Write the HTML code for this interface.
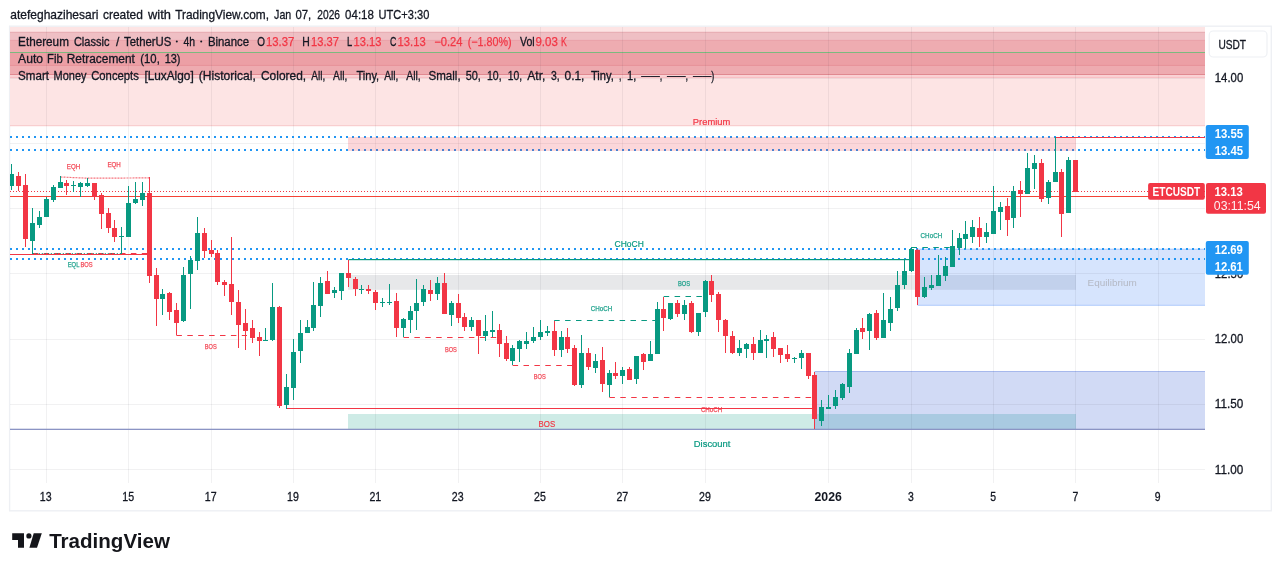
<!DOCTYPE html>
<html lang="en"><head><meta charset="utf-8"><title>ETCUSDT chart</title>
<style>
html,body{margin:0;padding:0;background:#fff;}
body{width:1281px;height:571px;overflow:hidden;font-family:"Liberation Sans", Arial, sans-serif;}
svg{display:block;position:absolute;left:0;top:0;will-change:transform;}
text{font-family:"Liberation Sans", Arial, sans-serif;}
.tk{stroke:#131722;stroke-width:0.3px;}
.tkr{stroke:#f23645;stroke-width:0.25px;}
.ce{shape-rendering:crispEdges;}
</style></head><body>
<svg width="1281" height="571" viewBox="0 0 1281 571">
<defs><clipPath id="pane"><rect x="10.0" y="26.8" width="1195.0" height="456.2"/></clipPath></defs>
<rect width="1281" height="571" fill="#fff"/>
<rect x="9.6" y="26.2" width="1261.7" height="484.6" fill="none" stroke="#eef0f4" stroke-width="1.4"/>
<g clip-path="url(#pane)">
<rect x="10" y="26.8" width="1195" height="5.5" fill="#fde4e4" />
<rect x="10" y="32.3" width="1195" height="8.1" fill="#efbfc4" />
<rect x="10" y="40.4" width="1195" height="12.1" fill="#eeacb1" />
<rect x="10" y="52.5" width="1195" height="12.9" fill="#ec9fa5" />
<rect x="10" y="65.4" width="1195" height="9.1" fill="#eeabb0" />
<rect x="10" y="74.5" width="1195" height="2.9" fill="#fad3d5" />
<rect x="10" y="77.4" width="1195" height="48.3" fill="#fde4e4" />
<rect x="10" y="31.8" width="1195" height="1" fill="#e5a7ad" />
<rect x="10" y="39.9" width="1195" height="1" fill="#e9a0a7" />
<rect x="10" y="64.9" width="1195" height="1" fill="#e68f97" />
<rect x="10" y="74" width="1195" height="1" fill="#e08990" />
<rect x="10" y="76.9" width="1195" height="1" fill="#f9bcc0" />
<rect x="10" y="125.2" width="1195" height="1" fill="#f7c6c8" />
<rect x="10" y="52" width="1195" height="1" fill="#7cb97e" />
<rect x="348" y="275" width="728" height="14.8" fill="#e7e8ea" />
<rect x="348" y="414" width="728" height="15.3" fill="#ceebe6" />
<rect x="917.5" y="249" width="287.5" height="56.5" fill="rgba(49,121,245,0.2)" />
<rect x="917.5" y="304.8" width="287.5" height="1" fill="rgba(49,121,245,0.3)" />
<rect x="917.5" y="248.6" width="287.5" height="1" fill="rgba(49,121,245,0.3)" />
<rect x="814.5" y="371.4" width="390.5" height="58" fill="rgba(24,72,204,0.2)" />
<rect x="814.5" y="371" width="390.5" height="1" fill="rgba(24,72,204,0.3)" />
<rect x="46" y="26.8" width="1" height="456.2" fill="rgba(42,46,57,0.065)" class="ce"/>
<rect x="128" y="26.8" width="1" height="456.2" fill="rgba(42,46,57,0.065)" class="ce"/>
<rect x="211" y="26.8" width="1" height="456.2" fill="rgba(42,46,57,0.065)" class="ce"/>
<rect x="293" y="26.8" width="1" height="456.2" fill="rgba(42,46,57,0.065)" class="ce"/>
<rect x="375" y="26.8" width="1" height="456.2" fill="rgba(42,46,57,0.065)" class="ce"/>
<rect x="458" y="26.8" width="1" height="456.2" fill="rgba(42,46,57,0.065)" class="ce"/>
<rect x="540" y="26.8" width="1" height="456.2" fill="rgba(42,46,57,0.065)" class="ce"/>
<rect x="622" y="26.8" width="1" height="456.2" fill="rgba(42,46,57,0.065)" class="ce"/>
<rect x="705" y="26.8" width="1" height="456.2" fill="rgba(42,46,57,0.065)" class="ce"/>
<rect x="828" y="26.8" width="1" height="456.2" fill="rgba(42,46,57,0.065)" class="ce"/>
<rect x="911" y="26.8" width="1" height="456.2" fill="rgba(42,46,57,0.065)" class="ce"/>
<rect x="993" y="26.8" width="1" height="456.2" fill="rgba(42,46,57,0.065)" class="ce"/>
<rect x="1075" y="26.8" width="1" height="456.2" fill="rgba(42,46,57,0.065)" class="ce"/>
<rect x="1158" y="26.8" width="1" height="456.2" fill="rgba(42,46,57,0.065)" class="ce"/>
<rect x="10" y="78" width="1195" height="1" fill="rgba(42,46,57,0.065)" class="ce"/>
<rect x="10" y="143" width="1195" height="1" fill="rgba(42,46,57,0.065)" class="ce"/>
<rect x="10" y="208" width="1195" height="1" fill="rgba(42,46,57,0.065)" class="ce"/>
<rect x="10" y="273" width="1195" height="1" fill="rgba(42,46,57,0.065)" class="ce"/>
<rect x="10" y="339" width="1195" height="1" fill="rgba(42,46,57,0.065)" class="ce"/>
<rect x="10" y="404" width="1195" height="1" fill="rgba(42,46,57,0.065)" class="ce"/>
<rect x="10" y="469" width="1195" height="1" fill="rgba(42,46,57,0.065)" class="ce"/>
<rect x="10" y="428.7" width="1195" height="1.3" fill="#8b94c4" />
<rect x="10" y="196" width="1195" height="1" fill="#f44336" class="ce"/>
<line x1="10" y1="191.5" x2="1205.0" y2="191.5" stroke="#f23645" stroke-width="1" stroke-dasharray="1 2" class="ce"/>
<line x1="10" y1="137" x2="1205.0" y2="137" stroke="#2196f3" stroke-width="2" stroke-dasharray="2 4"/>
<line x1="10" y1="150" x2="1205.0" y2="150" stroke="#2196f3" stroke-width="2" stroke-dasharray="2 4"/>
<line x1="10" y1="249" x2="1205.0" y2="249" stroke="#2196f3" stroke-width="2" stroke-dasharray="2 4"/>
<line x1="10" y1="259" x2="1205.0" y2="259" stroke="#2196f3" stroke-width="2" stroke-dasharray="2 4"/>
<rect x="348" y="137" width="728" height="14" fill="rgba(242,54,69,0.2)" />
<rect x="1055.5" y="137" width="149.5" height="1" fill="#f23645" class="ce"/>
<rect x="348.5" y="259" width="561" height="1.2" fill="#089981" />
<rect x="286" y="408" width="526.5" height="1" fill="#f23645" class="ce"/>
<rect x="10" y="254" width="137" height="1" fill="#f23645" class="ce"/>
<line x1="32.8" y1="253.5" x2="147" y2="253.5" stroke="#f23645" stroke-width="1" stroke-dasharray="5.5 5.4"/>
<line x1="32.8" y1="253.5" x2="121" y2="253.5" stroke="#089981" stroke-width="1" stroke-dasharray="1 2"/>
<polyline points="60.5,177 87.5,178.2 149.5,177.9" fill="none" stroke="#f23645" stroke-width="1.2" stroke-dasharray="2 1" opacity="0.7"/>
<line x1="176.4" y1="335.5" x2="247" y2="335.5" stroke="#f23645" stroke-width="1" stroke-dasharray="5.5 5.4"/>
<line x1="403.5" y1="337.5" x2="496.2" y2="337.5" stroke="#f23645" stroke-width="1" stroke-dasharray="5.5 5.4"/>
<line x1="512.6" y1="365.5" x2="572.6" y2="365.5" stroke="#f23645" stroke-width="1" stroke-dasharray="5.5 5.4"/>
<line x1="609.4" y1="397.5" x2="812.5" y2="397.5" stroke="#f23645" stroke-width="1" stroke-dasharray="5.5 5.4"/>
<line x1="554.2" y1="320.5" x2="656.2" y2="320.5" stroke="#089981" stroke-width="1" stroke-dasharray="5.5 5.4"/>
<line x1="663.7" y1="296.5" x2="703" y2="296.5" stroke="#089981" stroke-width="1" stroke-dasharray="5.5 5.4"/>
<line x1="911.5" y1="247.5" x2="950.5" y2="247.5" stroke="#089981" stroke-width="1" stroke-dasharray="5.5 5.4"/>
<rect x="11" y="164" width="1" height="26" fill="#089981" class="ce"/>
<rect x="9" y="174" width="5" height="12" fill="#089981" class="ce"/>
<rect x="18" y="172" width="1" height="19" fill="#f23645" class="ce"/>
<rect x="16" y="176" width="5" height="10" fill="#f23645" class="ce"/>
<rect x="25" y="174" width="1" height="73" fill="#f23645" class="ce"/>
<rect x="23" y="185" width="5" height="54" fill="#f23645" class="ce"/>
<rect x="32" y="208" width="1" height="46" fill="#089981" class="ce"/>
<rect x="30" y="223" width="5" height="18" fill="#089981" class="ce"/>
<rect x="39" y="211" width="1" height="17" fill="#089981" class="ce"/>
<rect x="37" y="217" width="5" height="8" fill="#089981" class="ce"/>
<rect x="46" y="197" width="1" height="20" fill="#089981" class="ce"/>
<rect x="44" y="199" width="5" height="18" fill="#089981" class="ce"/>
<rect x="53" y="185" width="1" height="17" fill="#089981" class="ce"/>
<rect x="51" y="187" width="5" height="13" fill="#089981" class="ce"/>
<rect x="60" y="176" width="1" height="12" fill="#089981" class="ce"/>
<rect x="58" y="182" width="5" height="6" fill="#089981" class="ce"/>
<rect x="66" y="180" width="1" height="15" fill="#f23645" class="ce"/>
<rect x="64" y="183" width="5" height="3" fill="#f23645" class="ce"/>
<rect x="73" y="181" width="1" height="11" fill="#089981" class="ce"/>
<rect x="71" y="185" width="5" height="1" fill="#089981" class="ce"/>
<rect x="80" y="182" width="1" height="15" fill="#089981" class="ce"/>
<rect x="78" y="183" width="5" height="4" fill="#089981" class="ce"/>
<rect x="87" y="178" width="1" height="9" fill="#089981" class="ce"/>
<rect x="85" y="183" width="5" height="3" fill="#089981" class="ce"/>
<rect x="94" y="183" width="1" height="17" fill="#f23645" class="ce"/>
<rect x="92" y="183" width="5" height="14" fill="#f23645" class="ce"/>
<rect x="101" y="193" width="1" height="36" fill="#f23645" class="ce"/>
<rect x="99" y="195" width="5" height="19" fill="#f23645" class="ce"/>
<rect x="108" y="208" width="1" height="25" fill="#f23645" class="ce"/>
<rect x="106" y="213" width="5" height="15" fill="#f23645" class="ce"/>
<rect x="114" y="220" width="1" height="22" fill="#f23645" class="ce"/>
<rect x="112" y="228" width="5" height="9" fill="#f23645" class="ce"/>
<rect x="121" y="227" width="1" height="27" fill="#089981" class="ce"/>
<rect x="119" y="236" width="5" height="1" fill="#089981" class="ce"/>
<rect x="128" y="186" width="1" height="51" fill="#089981" class="ce"/>
<rect x="126" y="203" width="5" height="34" fill="#089981" class="ce"/>
<rect x="135" y="182" width="1" height="22" fill="#089981" class="ce"/>
<rect x="133" y="199" width="5" height="4" fill="#089981" class="ce"/>
<rect x="142" y="182" width="1" height="24" fill="#089981" class="ce"/>
<rect x="140" y="193" width="5" height="7" fill="#089981" class="ce"/>
<rect x="149" y="177" width="1" height="106" fill="#f23645" class="ce"/>
<rect x="147" y="193" width="5" height="83" fill="#f23645" class="ce"/>
<rect x="156" y="268" width="1" height="58" fill="#f23645" class="ce"/>
<rect x="154" y="275" width="5" height="24" fill="#f23645" class="ce"/>
<rect x="162" y="289" width="1" height="26" fill="#089981" class="ce"/>
<rect x="160" y="294" width="5" height="5" fill="#089981" class="ce"/>
<rect x="169" y="292" width="1" height="28" fill="#f23645" class="ce"/>
<rect x="167" y="293" width="5" height="19" fill="#f23645" class="ce"/>
<rect x="176" y="303" width="1" height="32" fill="#f23645" class="ce"/>
<rect x="174" y="310" width="5" height="13" fill="#f23645" class="ce"/>
<rect x="183" y="267" width="1" height="55" fill="#089981" class="ce"/>
<rect x="181" y="275" width="5" height="46" fill="#089981" class="ce"/>
<rect x="190" y="256" width="1" height="53" fill="#089981" class="ce"/>
<rect x="188" y="260" width="5" height="14" fill="#089981" class="ce"/>
<rect x="197" y="217" width="1" height="53" fill="#089981" class="ce"/>
<rect x="195" y="233" width="5" height="28" fill="#089981" class="ce"/>
<rect x="204" y="228" width="1" height="30" fill="#f23645" class="ce"/>
<rect x="202" y="233" width="5" height="18" fill="#f23645" class="ce"/>
<rect x="211" y="240" width="1" height="17" fill="#f23645" class="ce"/>
<rect x="209" y="250" width="5" height="4" fill="#f23645" class="ce"/>
<rect x="217" y="250" width="1" height="35" fill="#f23645" class="ce"/>
<rect x="215" y="253" width="5" height="29" fill="#f23645" class="ce"/>
<rect x="224" y="280" width="1" height="16" fill="#f23645" class="ce"/>
<rect x="222" y="282" width="5" height="3" fill="#f23645" class="ce"/>
<rect x="231" y="237" width="1" height="78" fill="#f23645" class="ce"/>
<rect x="229" y="284" width="5" height="18" fill="#f23645" class="ce"/>
<rect x="238" y="290" width="1" height="58" fill="#f23645" class="ce"/>
<rect x="236" y="302" width="5" height="23" fill="#f23645" class="ce"/>
<rect x="245" y="309" width="1" height="41" fill="#f23645" class="ce"/>
<rect x="243" y="323" width="5" height="8" fill="#f23645" class="ce"/>
<rect x="252" y="320" width="1" height="23" fill="#f23645" class="ce"/>
<rect x="250" y="328" width="5" height="10" fill="#f23645" class="ce"/>
<rect x="259" y="332" width="1" height="24" fill="#f23645" class="ce"/>
<rect x="257" y="337" width="5" height="4" fill="#f23645" class="ce"/>
<rect x="265" y="328" width="1" height="13" fill="#089981" class="ce"/>
<rect x="263" y="340" width="5" height="1" fill="#089981" class="ce"/>
<rect x="272" y="283" width="1" height="58" fill="#089981" class="ce"/>
<rect x="270" y="307" width="5" height="33" fill="#089981" class="ce"/>
<rect x="279" y="306" width="1" height="102" fill="#f23645" class="ce"/>
<rect x="277" y="307" width="5" height="99" fill="#f23645" class="ce"/>
<rect x="286" y="374" width="1" height="35" fill="#089981" class="ce"/>
<rect x="284" y="387" width="5" height="18" fill="#089981" class="ce"/>
<rect x="293" y="339" width="1" height="61" fill="#089981" class="ce"/>
<rect x="291" y="352" width="5" height="36" fill="#089981" class="ce"/>
<rect x="300" y="320" width="1" height="43" fill="#089981" class="ce"/>
<rect x="298" y="333" width="5" height="18" fill="#089981" class="ce"/>
<rect x="307" y="320" width="1" height="13" fill="#089981" class="ce"/>
<rect x="305" y="327" width="5" height="6" fill="#089981" class="ce"/>
<rect x="313" y="282" width="1" height="49" fill="#089981" class="ce"/>
<rect x="311" y="305" width="5" height="23" fill="#089981" class="ce"/>
<rect x="320" y="277" width="1" height="40" fill="#089981" class="ce"/>
<rect x="318" y="283" width="5" height="23" fill="#089981" class="ce"/>
<rect x="327" y="271" width="1" height="23" fill="#f23645" class="ce"/>
<rect x="325" y="281" width="5" height="13" fill="#f23645" class="ce"/>
<rect x="334" y="287" width="1" height="11" fill="#089981" class="ce"/>
<rect x="332" y="290" width="5" height="3" fill="#089981" class="ce"/>
<rect x="341" y="273" width="1" height="27" fill="#089981" class="ce"/>
<rect x="339" y="273" width="5" height="18" fill="#089981" class="ce"/>
<rect x="348" y="260" width="1" height="27" fill="#f23645" class="ce"/>
<rect x="346" y="273" width="5" height="5" fill="#f23645" class="ce"/>
<rect x="355" y="277" width="1" height="19" fill="#f23645" class="ce"/>
<rect x="353" y="279" width="5" height="10" fill="#f23645" class="ce"/>
<rect x="361" y="285" width="1" height="9" fill="#089981" class="ce"/>
<rect x="359" y="289" width="5" height="1" fill="#089981" class="ce"/>
<rect x="368" y="285" width="1" height="9" fill="#f23645" class="ce"/>
<rect x="366" y="289" width="5" height="2" fill="#f23645" class="ce"/>
<rect x="375" y="290" width="1" height="20" fill="#f23645" class="ce"/>
<rect x="373" y="292" width="5" height="11" fill="#f23645" class="ce"/>
<rect x="382" y="298" width="1" height="9" fill="#089981" class="ce"/>
<rect x="380" y="302" width="5" height="1" fill="#089981" class="ce"/>
<rect x="389" y="284" width="1" height="21" fill="#089981" class="ce"/>
<rect x="387" y="302" width="5" height="1" fill="#089981" class="ce"/>
<rect x="396" y="293" width="1" height="44" fill="#f23645" class="ce"/>
<rect x="394" y="301" width="5" height="27" fill="#f23645" class="ce"/>
<rect x="403" y="318" width="1" height="19" fill="#089981" class="ce"/>
<rect x="401" y="319" width="5" height="9" fill="#089981" class="ce"/>
<rect x="410" y="306" width="1" height="27" fill="#089981" class="ce"/>
<rect x="408" y="311" width="5" height="9" fill="#089981" class="ce"/>
<rect x="416" y="279" width="1" height="51" fill="#089981" class="ce"/>
<rect x="414" y="303" width="5" height="8" fill="#089981" class="ce"/>
<rect x="423" y="285" width="1" height="21" fill="#089981" class="ce"/>
<rect x="421" y="289" width="5" height="13" fill="#089981" class="ce"/>
<rect x="430" y="280" width="1" height="21" fill="#f23645" class="ce"/>
<rect x="428" y="290" width="5" height="4" fill="#f23645" class="ce"/>
<rect x="437" y="277" width="1" height="23" fill="#089981" class="ce"/>
<rect x="435" y="283" width="5" height="11" fill="#089981" class="ce"/>
<rect x="444" y="273" width="1" height="41" fill="#f23645" class="ce"/>
<rect x="442" y="283" width="5" height="31" fill="#f23645" class="ce"/>
<rect x="451" y="301" width="1" height="25" fill="#089981" class="ce"/>
<rect x="449" y="303" width="5" height="12" fill="#089981" class="ce"/>
<rect x="458" y="294" width="1" height="29" fill="#f23645" class="ce"/>
<rect x="456" y="303" width="5" height="15" fill="#f23645" class="ce"/>
<rect x="464" y="313" width="1" height="18" fill="#f23645" class="ce"/>
<rect x="462" y="317" width="5" height="10" fill="#f23645" class="ce"/>
<rect x="471" y="317" width="1" height="14" fill="#089981" class="ce"/>
<rect x="469" y="320" width="5" height="7" fill="#089981" class="ce"/>
<rect x="478" y="320" width="1" height="34" fill="#f23645" class="ce"/>
<rect x="476" y="320" width="5" height="16" fill="#f23645" class="ce"/>
<rect x="485" y="315" width="1" height="26" fill="#089981" class="ce"/>
<rect x="483" y="331" width="5" height="5" fill="#089981" class="ce"/>
<rect x="492" y="311" width="1" height="26" fill="#089981" class="ce"/>
<rect x="490" y="330" width="5" height="2" fill="#089981" class="ce"/>
<rect x="499" y="324" width="1" height="33" fill="#f23645" class="ce"/>
<rect x="497" y="330" width="5" height="14" fill="#f23645" class="ce"/>
<rect x="506" y="336" width="1" height="25" fill="#f23645" class="ce"/>
<rect x="504" y="343" width="5" height="16" fill="#f23645" class="ce"/>
<rect x="512" y="345" width="1" height="20" fill="#089981" class="ce"/>
<rect x="510" y="348" width="5" height="13" fill="#089981" class="ce"/>
<rect x="519" y="340" width="1" height="22" fill="#089981" class="ce"/>
<rect x="517" y="341" width="5" height="8" fill="#089981" class="ce"/>
<rect x="526" y="332" width="1" height="17" fill="#089981" class="ce"/>
<rect x="524" y="341" width="5" height="3" fill="#089981" class="ce"/>
<rect x="533" y="327" width="1" height="16" fill="#089981" class="ce"/>
<rect x="531" y="337" width="5" height="4" fill="#089981" class="ce"/>
<rect x="540" y="320" width="1" height="20" fill="#089981" class="ce"/>
<rect x="538" y="332" width="5" height="5" fill="#089981" class="ce"/>
<rect x="547" y="326" width="1" height="10" fill="#089981" class="ce"/>
<rect x="545" y="331" width="5" height="2" fill="#089981" class="ce"/>
<rect x="554" y="321" width="1" height="35" fill="#f23645" class="ce"/>
<rect x="552" y="331" width="5" height="19" fill="#f23645" class="ce"/>
<rect x="561" y="331" width="1" height="26" fill="#089981" class="ce"/>
<rect x="559" y="337" width="5" height="13" fill="#089981" class="ce"/>
<rect x="567" y="328" width="1" height="25" fill="#f23645" class="ce"/>
<rect x="565" y="337" width="5" height="12" fill="#f23645" class="ce"/>
<rect x="574" y="345" width="1" height="41" fill="#f23645" class="ce"/>
<rect x="572" y="348" width="5" height="37" fill="#f23645" class="ce"/>
<rect x="581" y="335" width="1" height="53" fill="#089981" class="ce"/>
<rect x="579" y="353" width="5" height="32" fill="#089981" class="ce"/>
<rect x="588" y="348" width="1" height="22" fill="#f23645" class="ce"/>
<rect x="586" y="353" width="5" height="14" fill="#f23645" class="ce"/>
<rect x="595" y="354" width="1" height="19" fill="#089981" class="ce"/>
<rect x="593" y="361" width="5" height="7" fill="#089981" class="ce"/>
<rect x="602" y="347" width="1" height="45" fill="#f23645" class="ce"/>
<rect x="600" y="360" width="5" height="24" fill="#f23645" class="ce"/>
<rect x="609" y="370" width="1" height="27" fill="#089981" class="ce"/>
<rect x="607" y="373" width="5" height="12" fill="#089981" class="ce"/>
<rect x="615" y="362" width="1" height="17" fill="#f23645" class="ce"/>
<rect x="613" y="373" width="5" height="3" fill="#f23645" class="ce"/>
<rect x="622" y="367" width="1" height="17" fill="#089981" class="ce"/>
<rect x="620" y="370" width="5" height="6" fill="#089981" class="ce"/>
<rect x="629" y="367" width="1" height="13" fill="#f23645" class="ce"/>
<rect x="627" y="369" width="5" height="11" fill="#f23645" class="ce"/>
<rect x="636" y="356" width="1" height="28" fill="#089981" class="ce"/>
<rect x="634" y="356" width="5" height="23" fill="#089981" class="ce"/>
<rect x="643" y="353" width="1" height="17" fill="#f23645" class="ce"/>
<rect x="641" y="354" width="5" height="8" fill="#f23645" class="ce"/>
<rect x="650" y="341" width="1" height="20" fill="#089981" class="ce"/>
<rect x="648" y="354" width="5" height="7" fill="#089981" class="ce"/>
<rect x="657" y="302" width="1" height="52" fill="#089981" class="ce"/>
<rect x="655" y="309" width="5" height="45" fill="#089981" class="ce"/>
<rect x="663" y="297" width="1" height="34" fill="#f23645" class="ce"/>
<rect x="661" y="309" width="5" height="9" fill="#f23645" class="ce"/>
<rect x="670" y="303" width="1" height="17" fill="#089981" class="ce"/>
<rect x="668" y="303" width="5" height="16" fill="#089981" class="ce"/>
<rect x="677" y="300" width="1" height="17" fill="#f23645" class="ce"/>
<rect x="675" y="303" width="5" height="11" fill="#f23645" class="ce"/>
<rect x="684" y="300" width="1" height="20" fill="#089981" class="ce"/>
<rect x="682" y="305" width="5" height="9" fill="#089981" class="ce"/>
<rect x="691" y="301" width="1" height="32" fill="#f23645" class="ce"/>
<rect x="689" y="303" width="5" height="29" fill="#f23645" class="ce"/>
<rect x="698" y="313" width="1" height="23" fill="#089981" class="ce"/>
<rect x="696" y="313" width="5" height="19" fill="#089981" class="ce"/>
<rect x="705" y="280" width="1" height="37" fill="#089981" class="ce"/>
<rect x="703" y="281" width="5" height="31" fill="#089981" class="ce"/>
<rect x="711" y="275" width="1" height="27" fill="#f23645" class="ce"/>
<rect x="709" y="281" width="5" height="14" fill="#f23645" class="ce"/>
<rect x="718" y="292" width="1" height="40" fill="#f23645" class="ce"/>
<rect x="716" y="294" width="5" height="26" fill="#f23645" class="ce"/>
<rect x="725" y="319" width="1" height="34" fill="#f23645" class="ce"/>
<rect x="723" y="320" width="5" height="16" fill="#f23645" class="ce"/>
<rect x="732" y="331" width="1" height="23" fill="#f23645" class="ce"/>
<rect x="730" y="336" width="5" height="17" fill="#f23645" class="ce"/>
<rect x="739" y="340" width="1" height="16" fill="#089981" class="ce"/>
<rect x="737" y="348" width="5" height="5" fill="#089981" class="ce"/>
<rect x="746" y="343" width="1" height="15" fill="#089981" class="ce"/>
<rect x="744" y="344" width="5" height="5" fill="#089981" class="ce"/>
<rect x="753" y="337" width="1" height="23" fill="#f23645" class="ce"/>
<rect x="751" y="344" width="5" height="9" fill="#f23645" class="ce"/>
<rect x="760" y="330" width="1" height="23" fill="#089981" class="ce"/>
<rect x="758" y="340" width="5" height="13" fill="#089981" class="ce"/>
<rect x="766" y="335" width="1" height="23" fill="#089981" class="ce"/>
<rect x="764" y="339" width="5" height="2" fill="#089981" class="ce"/>
<rect x="773" y="332" width="1" height="25" fill="#f23645" class="ce"/>
<rect x="771" y="337" width="5" height="12" fill="#f23645" class="ce"/>
<rect x="780" y="348" width="1" height="15" fill="#f23645" class="ce"/>
<rect x="778" y="348" width="5" height="7" fill="#f23645" class="ce"/>
<rect x="787" y="345" width="1" height="17" fill="#f23645" class="ce"/>
<rect x="785" y="354" width="5" height="5" fill="#f23645" class="ce"/>
<rect x="794" y="357" width="1" height="6" fill="#089981" class="ce"/>
<rect x="792" y="358" width="5" height="1" fill="#089981" class="ce"/>
<rect x="801" y="350" width="1" height="19" fill="#089981" class="ce"/>
<rect x="799" y="353" width="5" height="5" fill="#089981" class="ce"/>
<rect x="808" y="353" width="1" height="26" fill="#f23645" class="ce"/>
<rect x="806" y="353" width="5" height="23" fill="#f23645" class="ce"/>
<rect x="814" y="372" width="1" height="57" fill="#f23645" class="ce"/>
<rect x="812" y="375" width="5" height="44" fill="#f23645" class="ce"/>
<rect x="821" y="400" width="1" height="26" fill="#089981" class="ce"/>
<rect x="819" y="407" width="5" height="14" fill="#089981" class="ce"/>
<rect x="828" y="395" width="1" height="14" fill="#089981" class="ce"/>
<rect x="826" y="407" width="5" height="2" fill="#089981" class="ce"/>
<rect x="835" y="390" width="1" height="19" fill="#089981" class="ce"/>
<rect x="833" y="397" width="5" height="9" fill="#089981" class="ce"/>
<rect x="842" y="383" width="1" height="17" fill="#089981" class="ce"/>
<rect x="840" y="384" width="5" height="14" fill="#089981" class="ce"/>
<rect x="849" y="349" width="1" height="44" fill="#089981" class="ce"/>
<rect x="847" y="353" width="5" height="34" fill="#089981" class="ce"/>
<rect x="856" y="328" width="1" height="26" fill="#089981" class="ce"/>
<rect x="854" y="330" width="5" height="24" fill="#089981" class="ce"/>
<rect x="862" y="318" width="1" height="21" fill="#f23645" class="ce"/>
<rect x="860" y="328" width="5" height="4" fill="#f23645" class="ce"/>
<rect x="869" y="313" width="1" height="37" fill="#089981" class="ce"/>
<rect x="867" y="314" width="5" height="17" fill="#089981" class="ce"/>
<rect x="876" y="310" width="1" height="30" fill="#f23645" class="ce"/>
<rect x="874" y="313" width="5" height="25" fill="#f23645" class="ce"/>
<rect x="883" y="293" width="1" height="45" fill="#089981" class="ce"/>
<rect x="881" y="320" width="5" height="18" fill="#089981" class="ce"/>
<rect x="890" y="297" width="1" height="34" fill="#089981" class="ce"/>
<rect x="888" y="309" width="5" height="14" fill="#089981" class="ce"/>
<rect x="897" y="271" width="1" height="40" fill="#089981" class="ce"/>
<rect x="895" y="285" width="5" height="23" fill="#089981" class="ce"/>
<rect x="904" y="259" width="1" height="30" fill="#089981" class="ce"/>
<rect x="902" y="271" width="5" height="14" fill="#089981" class="ce"/>
<rect x="911" y="247" width="1" height="25" fill="#089981" class="ce"/>
<rect x="909" y="249" width="5" height="22" fill="#089981" class="ce"/>
<rect x="917" y="249" width="1" height="56" fill="#f23645" class="ce"/>
<rect x="915" y="250" width="5" height="47" fill="#f23645" class="ce"/>
<rect x="924" y="277" width="1" height="21" fill="#089981" class="ce"/>
<rect x="922" y="287" width="5" height="10" fill="#089981" class="ce"/>
<rect x="931" y="275" width="1" height="15" fill="#089981" class="ce"/>
<rect x="929" y="285" width="5" height="3" fill="#089981" class="ce"/>
<rect x="938" y="255" width="1" height="31" fill="#089981" class="ce"/>
<rect x="936" y="275" width="5" height="11" fill="#089981" class="ce"/>
<rect x="945" y="257" width="1" height="24" fill="#089981" class="ce"/>
<rect x="943" y="266" width="5" height="10" fill="#089981" class="ce"/>
<rect x="952" y="230" width="1" height="37" fill="#089981" class="ce"/>
<rect x="950" y="246" width="5" height="21" fill="#089981" class="ce"/>
<rect x="959" y="233" width="1" height="22" fill="#089981" class="ce"/>
<rect x="957" y="238" width="5" height="10" fill="#089981" class="ce"/>
<rect x="965" y="221" width="1" height="28" fill="#089981" class="ce"/>
<rect x="963" y="234" width="5" height="5" fill="#089981" class="ce"/>
<rect x="972" y="220" width="1" height="23" fill="#089981" class="ce"/>
<rect x="970" y="227" width="5" height="10" fill="#089981" class="ce"/>
<rect x="979" y="217" width="1" height="30" fill="#f23645" class="ce"/>
<rect x="977" y="228" width="5" height="9" fill="#f23645" class="ce"/>
<rect x="986" y="223" width="1" height="20" fill="#089981" class="ce"/>
<rect x="984" y="232" width="5" height="5" fill="#089981" class="ce"/>
<rect x="993" y="186" width="1" height="48" fill="#089981" class="ce"/>
<rect x="991" y="211" width="5" height="23" fill="#089981" class="ce"/>
<rect x="1000" y="202" width="1" height="28" fill="#089981" class="ce"/>
<rect x="998" y="207" width="5" height="5" fill="#089981" class="ce"/>
<rect x="1007" y="198" width="1" height="38" fill="#f23645" class="ce"/>
<rect x="1005" y="206" width="5" height="14" fill="#f23645" class="ce"/>
<rect x="1013" y="186" width="1" height="42" fill="#089981" class="ce"/>
<rect x="1011" y="191" width="5" height="27" fill="#089981" class="ce"/>
<rect x="1020" y="181" width="1" height="36" fill="#f23645" class="ce"/>
<rect x="1018" y="190" width="5" height="4" fill="#f23645" class="ce"/>
<rect x="1027" y="153" width="1" height="41" fill="#089981" class="ce"/>
<rect x="1025" y="168" width="5" height="26" fill="#089981" class="ce"/>
<rect x="1034" y="155" width="1" height="34" fill="#089981" class="ce"/>
<rect x="1032" y="163" width="5" height="6" fill="#089981" class="ce"/>
<rect x="1041" y="159" width="1" height="43" fill="#f23645" class="ce"/>
<rect x="1039" y="163" width="5" height="36" fill="#f23645" class="ce"/>
<rect x="1048" y="180" width="1" height="24" fill="#089981" class="ce"/>
<rect x="1046" y="182" width="5" height="16" fill="#089981" class="ce"/>
<rect x="1055" y="137" width="1" height="45" fill="#089981" class="ce"/>
<rect x="1053" y="172" width="5" height="10" fill="#089981" class="ce"/>
<rect x="1061" y="169" width="1" height="68" fill="#f23645" class="ce"/>
<rect x="1059" y="172" width="5" height="42" fill="#f23645" class="ce"/>
<rect x="1068" y="157" width="1" height="56" fill="#089981" class="ce"/>
<rect x="1066" y="160" width="5" height="53" fill="#089981" class="ce"/>
<rect x="1075" y="160" width="1" height="32" fill="#f23645" class="ce"/>
<rect x="1073" y="160" width="5" height="32" fill="#f23645" class="ce"/>
</g>
<text x="66.8" y="169.2" font-size="7" fill="#f23645" textLength="13.4" lengthAdjust="spacingAndGlyphs" opacity="0.9" stroke="#f23645" stroke-width="0.25">EQH</text>
<text x="107.4" y="167.2" font-size="7" fill="#f23645" textLength="13.4" lengthAdjust="spacingAndGlyphs" opacity="0.9" stroke="#f23645" stroke-width="0.25">EQH</text>
<text x="67.7" y="267.3" font-size="7" fill="#089981" textLength="11.7" lengthAdjust="spacingAndGlyphs" opacity="0.9" stroke="#089981" stroke-width="0.25">EQL</text>
<text x="80.5" y="267.3" font-size="7" fill="#f23645" textLength="12.2" lengthAdjust="spacingAndGlyphs" opacity="0.9" stroke="#f23645" stroke-width="0.25">BOS</text>
<text x="204.8" y="349.3" font-size="7" fill="#f23645" textLength="12" lengthAdjust="spacingAndGlyphs" opacity="0.9" stroke="#f23645" stroke-width="0.25">BOS</text>
<text x="444.9" y="352.1" font-size="7" fill="#f23645" textLength="12" lengthAdjust="spacingAndGlyphs" opacity="0.9" stroke="#f23645" stroke-width="0.25">BOS</text>
<text x="533.8" y="379.1" font-size="7" fill="#f23645" textLength="12" lengthAdjust="spacingAndGlyphs" opacity="0.9" stroke="#f23645" stroke-width="0.25">BOS</text>
<text x="590.7" y="311.3" font-size="7" fill="#089981" textLength="21.5" lengthAdjust="spacingAndGlyphs" opacity="0.9" stroke="#089981" stroke-width="0.25">CHoCH</text>
<text x="677.9" y="286.2" font-size="7" fill="#089981" textLength="12.2" lengthAdjust="spacingAndGlyphs" opacity="0.9" stroke="#089981" stroke-width="0.25">BOS</text>
<text x="700.9" y="412.1" font-size="7" fill="#f23645" textLength="21.3" lengthAdjust="spacingAndGlyphs" opacity="0.9" stroke="#f23645" stroke-width="0.25">CHoCH</text>
<text x="920.6" y="238" font-size="7" fill="#089981" textLength="21.6" lengthAdjust="spacingAndGlyphs" opacity="0.9" stroke="#089981" stroke-width="0.25">CHoCH</text>
<text x="538.6" y="427.1" font-size="9.6" fill="#f23645" textLength="16.6" lengthAdjust="spacingAndGlyphs" stroke="#f23645" stroke-width="0.2">BOS</text>
<text x="614.6" y="246.8" font-size="9.7" fill="#089981" textLength="29.2" lengthAdjust="spacingAndGlyphs" stroke="#089981" stroke-width="0.2">CHoCH</text>
<text x="692.8" y="125" font-size="9.6" fill="#f23645" textLength="37.5" lengthAdjust="spacingAndGlyphs" stroke="#f23645" stroke-width="0.2">Premium</text>
<text x="693.8" y="447.3" font-size="9.6" fill="#089981" textLength="36.6" lengthAdjust="spacingAndGlyphs" stroke="#089981" stroke-width="0.2">Discount</text>
<text x="1087.6" y="286.2" font-size="9.6" fill="#b4b8c4" textLength="49.2" lengthAdjust="spacingAndGlyphs" >Equilibrium</text>
<text x="10.3" y="18.7" font-size="13" fill="#131722" textLength="88.1" lengthAdjust="spacingAndGlyphs" class="tk" >atefeghazihesari</text>
<text x="103" y="18.7" font-size="13" fill="#131722" textLength="39.9" lengthAdjust="spacingAndGlyphs" class="tk" >created</text>
<text x="148" y="18.7" font-size="13" fill="#131722" textLength="22.9" lengthAdjust="spacingAndGlyphs" class="tk" >with</text>
<text x="175.2" y="18.7" font-size="13" fill="#131722" textLength="93.8" lengthAdjust="spacingAndGlyphs" class="tk" >TradingView.com,</text>
<text x="274.1" y="18.7" font-size="13" fill="#131722" textLength="17.2" lengthAdjust="spacingAndGlyphs" class="tk" >Jan</text>
<text x="295.4" y="18.7" font-size="13" fill="#131722" textLength="15.8" lengthAdjust="spacingAndGlyphs" class="tk" >07,</text>
<text x="317.3" y="18.7" font-size="13" fill="#131722" textLength="22.7" lengthAdjust="spacingAndGlyphs" class="tk" >2026</text>
<text x="345.1" y="18.7" font-size="13" fill="#131722" textLength="28.8" lengthAdjust="spacingAndGlyphs" class="tk" >04:18</text>
<text x="378.6" y="18.7" font-size="13" fill="#131722" textLength="50.7" lengthAdjust="spacingAndGlyphs" class="tk" >UTC+3:30</text>
<text x="18.1" y="45.8" font-size="12" fill="#131722" textLength="50.8" lengthAdjust="spacingAndGlyphs" class="tk" >Ethereum</text>
<text x="73.9" y="45.8" font-size="12" fill="#131722" textLength="35.6" lengthAdjust="spacingAndGlyphs" class="tk" >Classic</text>
<text x="124.1" y="45.8" font-size="12" fill="#131722" textLength="47.3" lengthAdjust="spacingAndGlyphs" class="tk" >TetherUS</text>
<text x="183.5" y="45.8" font-size="12" fill="#131722" textLength="11.6" lengthAdjust="spacingAndGlyphs" class="tk" >4h</text>
<text x="207.9" y="45.8" font-size="12" fill="#131722" textLength="41.2" lengthAdjust="spacingAndGlyphs" class="tk" >Binance</text>
<text x="116" y="45.8" font-size="12" fill="#131722" class="tk" >/</text>
<circle cx="176.8" cy="41.6" r="1" fill="#131722"/><circle cx="201.2" cy="41.6" r="1" fill="#131722"/>
<text x="257.2" y="45.8" font-size="12" fill="#131722" textLength="7.7" lengthAdjust="spacingAndGlyphs" class="tk" >O</text>
<text x="266" y="45.8" font-size="12" fill="#f23645" textLength="28.3" lengthAdjust="spacingAndGlyphs" class="tkr" >13.37</text>
<text x="302.3" y="45.8" font-size="12" fill="#131722" textLength="7.5" lengthAdjust="spacingAndGlyphs" class="tk" >H</text>
<text x="311" y="45.8" font-size="12" fill="#f23645" textLength="27.9" lengthAdjust="spacingAndGlyphs" class="tkr" >13.37</text>
<text x="347.1" y="45.8" font-size="12" fill="#131722" textLength="5.2" lengthAdjust="spacingAndGlyphs" class="tk" >L</text>
<text x="353.6" y="45.8" font-size="12" fill="#f23645" textLength="27.8" lengthAdjust="spacingAndGlyphs" class="tkr" >13.13</text>
<text x="389.9" y="45.8" font-size="12" fill="#131722" textLength="6.4" lengthAdjust="spacingAndGlyphs" class="tk" >C</text>
<text x="397.6" y="45.8" font-size="12" fill="#f23645" textLength="28.1" lengthAdjust="spacingAndGlyphs" class="tkr" >13.13</text>
<text x="434.2" y="45.8" font-size="12" fill="#f23645" textLength="28.3" lengthAdjust="spacingAndGlyphs" class="tkr" >−0.24</text>
<text x="467.7" y="45.8" font-size="12" fill="#f23645" textLength="43.8" lengthAdjust="spacingAndGlyphs" class="tkr" >(−1.80%)</text>
<text x="520" y="45.8" font-size="12" fill="#131722" textLength="14.6" lengthAdjust="spacingAndGlyphs" class="tk" >Vol</text>
<text x="535.4" y="45.8" font-size="12" fill="#f23645" textLength="22.4" lengthAdjust="spacingAndGlyphs" class="tkr" >9.03</text>
<text x="560.9" y="45.8" font-size="12" fill="#f23645" textLength="5.9" lengthAdjust="spacingAndGlyphs" class="tkr" >K</text>
<text x="18.1" y="63" font-size="12" fill="#131722" textLength="25" lengthAdjust="spacingAndGlyphs" class="tk" >Auto</text>
<text x="47.1" y="63" font-size="12" fill="#131722" textLength="15.7" lengthAdjust="spacingAndGlyphs" class="tk" >Fib</text>
<text x="66.8" y="63" font-size="12" fill="#131722" textLength="68" lengthAdjust="spacingAndGlyphs" class="tk" >Retracement</text>
<text x="140.3" y="63" font-size="12" fill="#131722" textLength="19.5" lengthAdjust="spacingAndGlyphs" class="tk" >(10,</text>
<text x="164.7" y="63" font-size="12" fill="#131722" textLength="15.8" lengthAdjust="spacingAndGlyphs" class="tk" >13)</text>
<text x="18.1" y="79.8" font-size="12" fill="#131722" textLength="30.9" lengthAdjust="spacingAndGlyphs" class="tk" >Smart</text>
<text x="53.6" y="79.8" font-size="12" fill="#131722" textLength="32.9" lengthAdjust="spacingAndGlyphs" class="tk" >Money</text>
<text x="91.2" y="79.8" font-size="12" fill="#131722" textLength="47.7" lengthAdjust="spacingAndGlyphs" class="tk" >Concepts</text>
<text x="144.4" y="79.8" font-size="12" fill="#131722" textLength="49.3" lengthAdjust="spacingAndGlyphs" class="tk" >[LuxAlgo]</text>
<text x="198.8" y="79.8" font-size="12" fill="#131722" textLength="57" lengthAdjust="spacingAndGlyphs" class="tk" >(Historical,</text>
<text x="261" y="79.8" font-size="12" fill="#131722" textLength="45.1" lengthAdjust="spacingAndGlyphs" class="tk" >Colored,</text>
<text x="311.2" y="79.8" font-size="12" fill="#131722" textLength="14" lengthAdjust="spacingAndGlyphs" class="tk" >All,</text>
<text x="333.1" y="79.8" font-size="12" fill="#131722" textLength="14.2" lengthAdjust="spacingAndGlyphs" class="tk" >All,</text>
<text x="356.4" y="79.8" font-size="12" fill="#131722" textLength="22.8" lengthAdjust="spacingAndGlyphs" class="tk" >Tiny,</text>
<text x="384.2" y="79.8" font-size="12" fill="#131722" textLength="14.2" lengthAdjust="spacingAndGlyphs" class="tk" >All,</text>
<text x="406.2" y="79.8" font-size="12" fill="#131722" textLength="14.6" lengthAdjust="spacingAndGlyphs" class="tk" >All,</text>
<text x="428.5" y="79.8" font-size="12" fill="#131722" textLength="32.1" lengthAdjust="spacingAndGlyphs" class="tk" >Small,</text>
<text x="465.7" y="79.8" font-size="12" fill="#131722" textLength="15.2" lengthAdjust="spacingAndGlyphs" class="tk" >50,</text>
<text x="487" y="79.8" font-size="12" fill="#131722" textLength="14.6" lengthAdjust="spacingAndGlyphs" class="tk" >10,</text>
<text x="507.7" y="79.8" font-size="12" fill="#131722" textLength="14.4" lengthAdjust="spacingAndGlyphs" class="tk" >10,</text>
<text x="527.2" y="79.8" font-size="12" fill="#131722" textLength="18.2" lengthAdjust="spacingAndGlyphs" class="tk" >Atr,</text>
<text x="550.9" y="79.8" font-size="12" fill="#131722" textLength="8.7" lengthAdjust="spacingAndGlyphs" class="tk" >3,</text>
<text x="564.5" y="79.8" font-size="12" fill="#131722" textLength="19.9" lengthAdjust="spacingAndGlyphs" class="tk" >0.1,</text>
<text x="590.9" y="79.8" font-size="12" fill="#131722" textLength="22.9" lengthAdjust="spacingAndGlyphs" class="tk" >Tiny,</text>
<text x="618.9" y="79.8" font-size="12" fill="#131722" textLength="2.4" lengthAdjust="spacingAndGlyphs" class="tk" >,</text>
<text x="627" y="79.8" font-size="12" fill="#131722" textLength="9.2" lengthAdjust="spacingAndGlyphs" class="tk" >1,</text>
<text x="641.2" y="79.8" font-size="12" fill="#131722" textLength="21.1" lengthAdjust="spacingAndGlyphs" class="tk" >——,</text>
<text x="667" y="79.8" font-size="12" fill="#131722" textLength="21.2" lengthAdjust="spacingAndGlyphs" class="tk" >——,</text>
<text x="693" y="79.8" font-size="12" fill="#131722" textLength="21.3" lengthAdjust="spacingAndGlyphs" class="tk" >——)</text>
<text x="1214.8" y="81.9" font-size="12" fill="#131722" textLength="28.4" lengthAdjust="spacingAndGlyphs" class="tk" >14.00</text>
<text x="1214.8" y="277.9" font-size="12" fill="#131722" textLength="28.4" lengthAdjust="spacingAndGlyphs" class="tk" >12.50</text>
<text x="1214.8" y="342.8" font-size="12" fill="#131722" textLength="28.4" lengthAdjust="spacingAndGlyphs" class="tk" >12.00</text>
<text x="1214.8" y="407.7" font-size="12" fill="#131722" textLength="28.4" lengthAdjust="spacingAndGlyphs" class="tk" >11.50</text>
<text x="1214.8" y="473.8" font-size="12" fill="#131722" textLength="28.4" lengthAdjust="spacingAndGlyphs" class="tk" >11.00</text>
<rect x="1209.2" y="31" width="57.8" height="26" rx="4" ry="4" fill="#fff" stroke="#eef0f4" stroke-width="1.2"/>
<text x="1218.4" y="48.9" font-size="12" fill="#131722" textLength="27.6" lengthAdjust="spacingAndGlyphs" class="tk" >USDT</text>
<rect x="1205.8" y="125" width="43" height="33.9" rx="2" ry="2" fill="#2196f3"/>
<text x="1214.7" y="137.8" font-size="12" fill="#fff" textLength="28.4" lengthAdjust="spacingAndGlyphs" font-weight="bold" >13.55</text>
<text x="1214.7" y="154.8" font-size="12" fill="#fff" textLength="28.4" lengthAdjust="spacingAndGlyphs" font-weight="bold" >13.45</text>
<rect x="1205.8" y="241" width="43" height="33.7" rx="2" ry="2" fill="#2196f3"/>
<text x="1214.7" y="253.5" font-size="12" fill="#fff" textLength="28.2" lengthAdjust="spacingAndGlyphs" font-weight="bold" >12.69</text>
<text x="1214.7" y="270.7" font-size="12" fill="#fff" textLength="28.2" lengthAdjust="spacingAndGlyphs" font-weight="bold" >12.61</text>
<rect x="1148.1" y="183.1" width="56.7" height="16.7" rx="2" ry="2" fill="#f23645"/>
<text x="1152.6" y="195.6" font-size="12" fill="#fff" textLength="47.7" lengthAdjust="spacingAndGlyphs" font-weight="bold" >ETCUSDT</text>
<rect x="1206" y="183.1" width="60" height="30.6" rx="2" ry="2" fill="#f23645"/>
<text x="1214.5" y="195.6" font-size="12" fill="#fff" textLength="28.3" lengthAdjust="spacingAndGlyphs" font-weight="bold" >13.13</text>
<text x="1213.8" y="209.8" font-size="12" fill="#fff" textLength="46.9" lengthAdjust="spacingAndGlyphs" opacity="0.92">03:11:54</text>
<text x="39.8" y="501" font-size="12" fill="#131722" textLength="11.8" lengthAdjust="spacingAndGlyphs" class="tk" >13</text>
<text x="122.3" y="501" font-size="12" fill="#131722" textLength="11.8" lengthAdjust="spacingAndGlyphs" class="tk" >15</text>
<text x="204.8" y="501" font-size="12" fill="#131722" textLength="11.8" lengthAdjust="spacingAndGlyphs" class="tk" >17</text>
<text x="287.1" y="501" font-size="12" fill="#131722" textLength="11.8" lengthAdjust="spacingAndGlyphs" class="tk" >19</text>
<text x="369.4" y="501" font-size="12" fill="#131722" textLength="11.8" lengthAdjust="spacingAndGlyphs" class="tk" >21</text>
<text x="451.8" y="501" font-size="12" fill="#131722" textLength="11.8" lengthAdjust="spacingAndGlyphs" class="tk" >23</text>
<text x="534.1" y="501" font-size="12" fill="#131722" textLength="11.8" lengthAdjust="spacingAndGlyphs" class="tk" >25</text>
<text x="616.4" y="501" font-size="12" fill="#131722" textLength="11.8" lengthAdjust="spacingAndGlyphs" class="tk" >27</text>
<text x="699.1" y="501" font-size="12" fill="#131722" textLength="11.8" lengthAdjust="spacingAndGlyphs" class="tk" >29</text>
<text x="814.55" y="501" font-size="12" fill="#131722" textLength="27.3" lengthAdjust="spacingAndGlyphs" font-weight="bold" >2026</text>
<text x="908.1" y="501" font-size="12" fill="#131722" textLength="5.8" lengthAdjust="spacingAndGlyphs" class="tk" >3</text>
<text x="990.3" y="501" font-size="12" fill="#131722" textLength="5.8" lengthAdjust="spacingAndGlyphs" class="tk" >5</text>
<text x="1072.4" y="501" font-size="12" fill="#131722" textLength="5.8" lengthAdjust="spacingAndGlyphs" class="tk" >7</text>
<text x="1154.8" y="501" font-size="12" fill="#131722" textLength="5.8" lengthAdjust="spacingAndGlyphs" class="tk" >9</text>
<path d="M12.2 533.3H24V547.8H18V540H12.2Z" fill="#14151a"/>
<circle cx="28.9" cy="535.9" r="2.6" fill="#14151a"/>
<path d="M33.7 533.3H41.8L37 547.8H29.4Z" fill="#14151a"/>
<text x="49.2" y="547.8" font-size="20" fill="#14151a" textLength="120.7" lengthAdjust="spacingAndGlyphs" font-weight="bold" >TradingView</text>
</svg></body></html>
